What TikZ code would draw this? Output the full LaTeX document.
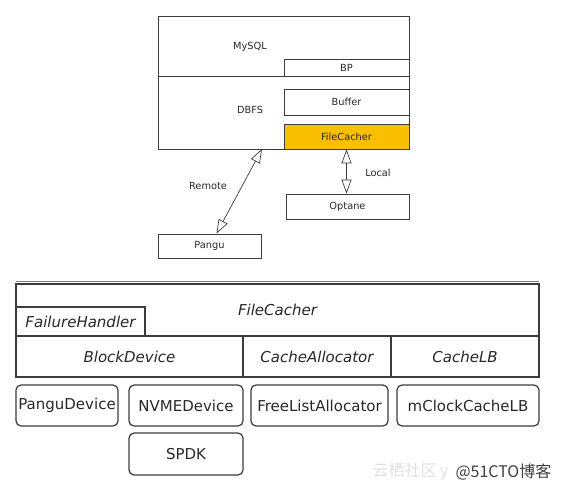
\documentclass[tikz,border=0pt]{standalone}
\usepackage{fontspec}
\setmainfont{DejaVu Sans}
\newfontfamily\cjk{Noto Sans CJK SC}
\usepackage{xcolor}
\usetikzlibrary{arrows.meta, positioning, calc}
\definecolor{fcyellow}{RGB}{250, 192, 0}
\definecolor{linegray}{RGB}{60, 60, 60}
\definecolor{txtgray}{RGB}{40, 40, 40}

\begin{document}
\begin{tikzpicture}[x=1pt, y=-1pt,
    topbox/.style={draw=linegray, line width=0.8pt, inner sep=0pt, text=txtgray,
        font=\fontsize{9.8}{11}\selectfont},
    toptext/.style={text=txtgray, inner sep=1pt, font=\fontsize{9.8}{11}\selectfont},
    layerbox/.style={draw=linegray, line width=1.2pt, inner sep=0pt, text=txtgray,
        font=\fontsize{15}{17}\selectfont\itshape},
    implbox/.style={draw=linegray, line width=1.2pt, rounded corners=5pt, inner sep=0pt,
        text=txtgray, font=\fontsize{15}{17}\selectfont},
    biarrow/.style={{Triangle[open, length=14pt, width=10pt]}-{Triangle[open, length=14pt, width=10pt]},
        draw=linegray, line width=0.7pt}]
    \useasboundingbox (0,0) rectangle (562,489);

    % The DBFS stack (top)
    \node[topbox, minimum width=251pt, minimum height=60pt] (mysql) at (283.5,46) {};
    \node[topbox, minimum width=251pt, minimum height=73pt] (dbfs) at (283.5,112.5) {};
    \node[toptext] (mysqltxt) at (250,47) {MySQL};
    \node[toptext] (dbfstxt) at (250,110) {DBFS};
    \node[topbox, minimum width=125pt, minimum height=17pt] (bp) at (346.5,67.5) {BP};
    \node[topbox, minimum width=125pt, minimum height=26pt] (buffer) at (346.5,102) {Buffer};
    \node[topbox, fill=fcyellow, minimum width=125pt, minimum height=25pt] (filecacher) at (346.5,136.5) {FileCacher};

    % Storage backends
    \node[topbox, minimum width=123pt, minimum height=25pt] (optane) at (347.5,206.5) {Optane};
    \node[topbox, minimum width=103pt, minimum height=24pt] (pangu) at (209.5,246) {Pangu};

    % Remote and local paths
    \coordinate (remtop) at (262,149);
    \draw[biarrow] (remtop) -- ([xshift=7pt]pangu.north);
    \draw[biarrow] (filecacher.south) -- (filecacher.south |- optane.north);
    \node[toptext] (remote) at (208,186) {Remote};
    \node[toptext] (local) at (378,173) {Local};

    % FileCacher modules (bottom)
    \draw[gray, line width=1pt] (16,281) -- (539,281);
    \node[layerbox, minimum width=523pt, minimum height=52pt] (fcbox) at (277.5,310) {FileCacher};
    \node[layerbox, minimum width=129pt, minimum height=29pt] (failure) at (80.5,321.5) {FailureHandler};
    \node[layerbox, minimum width=227pt, minimum height=41pt] (blockdev) at (129.5,356.5) {BlockDevice};
    \node[layerbox, minimum width=148pt, minimum height=41pt] (cachealloc) at (317,356.5) {CacheAllocator};
    \node[layerbox, minimum width=148pt, minimum height=41pt] (cachelb) at (465,356.5) {CacheLB};

    % Implementations
    \node[implbox, minimum width=102pt, minimum height=41pt] (pangudev) at (67,405.5) {PanguDevice};
    \node[implbox, minimum width=114pt, minimum height=41pt] (nvmedev) at (186,405.5) {NVMEDevice};
    \node[implbox, minimum width=137pt, minimum height=41pt] (freelist) at (319.5,405.5) {FreeListAllocator};
    \node[implbox, minimum width=142pt, minimum height=41pt] (mclock) at (468,405.5) {mClockCacheLB};
    \node[implbox, minimum width=114pt, minimum height=42pt] (spdk) at (186,454) {SPDK};

    % Watermark
    \node[text=black!12, font=\cjk\fontsize{16}{18}\selectfont, anchor=east] (wmyq) at (452,472) {云栖社区 y};
    \node[text=black!75, font=\cjk\fontsize{16}{18}\selectfont, anchor=west] (wmcto) at (452,472) {@51CTO博客};
\end{tikzpicture}
\end{document}
